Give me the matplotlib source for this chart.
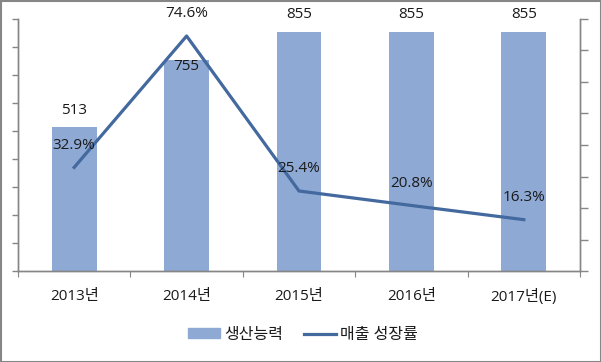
import matplotlib
matplotlib.use("Agg")
import matplotlib.pyplot as plt
from matplotlib.patches import Rectangle
from matplotlib.lines import Line2D
import numpy as np

plt.rcParams['font.family'] = ['Open Sans', 'Noto Sans CJK KR', 'DejaVu Sans']

categories = ['2013년', '2014년', '2015년', '2016년', '2017년(E)']
capacity = [513, 755, 855, 855, 855]
growth = [32.9, 74.6, 25.4, 20.8, 16.3]
capacity_labels = ['513', '755', '855', '855', '855']
growth_labels = ['32.9%', '74.6%', '25.4%', '20.8%', '16.3%']
legend_labels = ['생산능력', '매출 성장률']

bar_color = '#8EA9D4'
line_color = '#43699F'
axis_color = '#868686'
text_color = '#1a1a1a'
fs = 11

fig = plt.figure(figsize=(6.01, 3.62), dpi=100)
ax = fig.add_axes([18/601, 1-271/362, (580-18)/601, (271-19)/362])
ax2 = ax.twinx()

x = np.arange(len(categories))
ax.bar(x, capacity, width=0.4, color=bar_color, zorder=2)
ax.set_xlim(-0.5, len(categories)-0.5)
ax.set_ylim(0, 900)
ax.set_yticks(np.arange(0, 901, 100))
ax.set_yticklabels([])
ax.tick_params(axis='y', direction='out', length=4, color=axis_color, width=1)

ax.set_xticks(np.arange(-0.5, len(categories), 1.0))
ax.set_xticklabels([])
ax.tick_params(axis='x', which='major', direction='out', length=4, color=axis_color)
ax.set_xticks(x, minor=True)
ax.set_xticklabels(categories, minor=True, fontsize=fs, color=text_color)
ax.tick_params(axis='x', which='minor', length=0, pad=13)

ax2.plot(x, growth, color=line_color, linewidth=2.3, zorder=3)
ax2.set_ylim(0, 80)
ax2.set_yticks(np.arange(0, 81, 10))
ax2.set_yticklabels([])
ax2.tick_params(axis='y', direction='out', length=6, color=axis_color, width=1)

for a in (ax, ax2):
    a.spines['top'].set_visible(False)
    for s in ('left', 'right', 'bottom'):
        a.spines[s].set_color(axis_color)
        a.spines[s].set_linewidth(1)

bar_offsets = [12, -5, 12, 12, 12]
for xi, v, lab, off in zip(x, capacity, capacity_labels, bar_offsets):
    ax.annotate(lab, (xi, v), xytext=(0, off), textcoords='offset points',
                ha='center', va='center', fontsize=fs, color=text_color, zorder=5)

for xi, v, lab in zip(x, growth, growth_labels):
    ax2.annotate(lab, (xi, v), xytext=(0, 16), textcoords='offset points',
                 ha='center', va='center', fontsize=fs, color=text_color, zorder=5)

handles = [Rectangle((0, 0), 1, 1, color=bar_color),
           Line2D([0], [0], color=line_color, linewidth=2.3)]
fig.legend(handles, legend_labels, loc='center', bbox_to_anchor=(303/601, 1-335/362),
           ncol=2, frameon=False, fontsize=11.5, handlelength=2.0, handleheight=0.6,
           handletextpad=0.25, columnspacing=1.3, labelcolor=text_color)

fig.add_artist(Rectangle((0.5/601, 0.5/362), 1-1/601, 1-1/362, transform=fig.transFigure,
                         fill=False, edgecolor=axis_color, linewidth=1.5))

fig.savefig('out.png', dpi=100)
